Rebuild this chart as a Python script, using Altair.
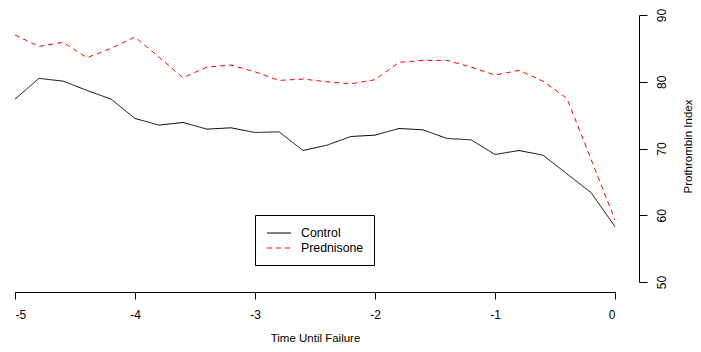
import altair as alt
import pandas as pd

time = [-5.0, -4.8, -4.6, -4.4, -4.2, -4.0, -3.8, -3.6, -3.4, -3.2, -3.0, -2.8, -2.6,
        -2.4, -2.2, -2.0, -1.8, -1.6, -1.4, -1.2, -1.0, -0.8, -0.6, -0.4, -0.2, 0.0]
control = [77.4, 80.5, 80.1, 78.7, 77.4, 74.5, 73.5, 73.9, 72.9, 73.1, 72.4, 72.5, 69.7,
           70.5, 71.8, 72.0, 73.0, 72.8, 71.5, 71.3, 69.1, 69.7, 69.0, 66.2, 63.4, 58.3]
prednisone = [87.0, 85.3, 85.9, 83.6, 85.0, 86.7, 83.7, 80.6, 82.2, 82.5, 81.5, 80.2, 80.4,
              80.0, 79.7, 80.3, 82.9, 83.2, 83.2, 82.2, 81.0, 81.7, 80.1, 77.5, 68.4, 59.3]
groups = ["Control", "Prednisone"]
colors = ["black", "#FF0000"]
x_ticks = [-5, -4, -3, -2, -1, 0]
y_ticks = [50, 60, 70, 80, 90]

df = pd.concat([
    pd.DataFrame({"time": time, "value": control, "group": groups[0]}),
    pd.DataFrame({"time": time, "value": prednisone, "group": groups[1]}),
])

font = "Liberation Sans"
narrow = "Liberation Sans Narrow, Liberation Sans"

chart = alt.Chart(df).mark_line(strokeWidth=1).encode(
    x=alt.X("time:Q", scale=alt.Scale(domain=[-5, 0], nice=False, zero=False),
            axis=alt.Axis(title="Time Until Failure", values=x_ticks,
                          labelExpr="'' + datum.value", grid=False, offset=10, tickSize=7,
                          labelPadding=10, titlePadding=12, labelFont=narrow,
                          titleFont=narrow, labelFontSize=12, titleFontSize=11.5)),
    y=alt.Y("value:Q", scale=alt.Scale(domain=[50, 90], nice=False, zero=False),
            axis=alt.Axis(title="Prothrombin Index", orient="right", values=y_ticks,
                          grid=False, offset=24, tickSize=8, labelAngle=270,
                          labelAlign="center", labelBaseline="top", labelPadding=9,
                          labelFontSize=12, titleFontSize=11.5,
                          titleAngle=270, titleX=49, titleY=131, titleAlign="center",
                          titleBaseline="middle")),
    color=alt.Color("group:N", scale=alt.Scale(domain=groups, range=colors),
                    legend=alt.Legend(title=None, orient="none", legendX=240, legendY=200,
                                      strokeColor="black", padding=10,
                                      symbolType="M-0.86,0H2.57",
                                      symbolSize=196, symbolStrokeWidth=1.2, labelFontSize=12.3,
                                      labelFont=font, rowPadding=0, labelOffset=20,
                                      cornerRadius=0, fillColor="white")),
    strokeDash=alt.StrokeDash("group:N", scale=alt.Scale(domain=groups, range=[[1, 0], [5, 4]]),
                              legend=None),
).properties(
    width=600, height=267,
    padding={"left": 7, "top": 7, "right": 78, "bottom": 62},
    autosize=alt.AutoSizeParams(type="none"),
).configure_view(stroke=None).configure_axis(
    labelFont=font, titleFont=font,
    titleFontWeight="normal", domainColor="black", tickColor="black",
    labelColor="black", titleColor="black", domainWidth=1, tickWidth=1,
)

chart.save("out.html", embed_options={"renderer": "svg", "actions": False})
